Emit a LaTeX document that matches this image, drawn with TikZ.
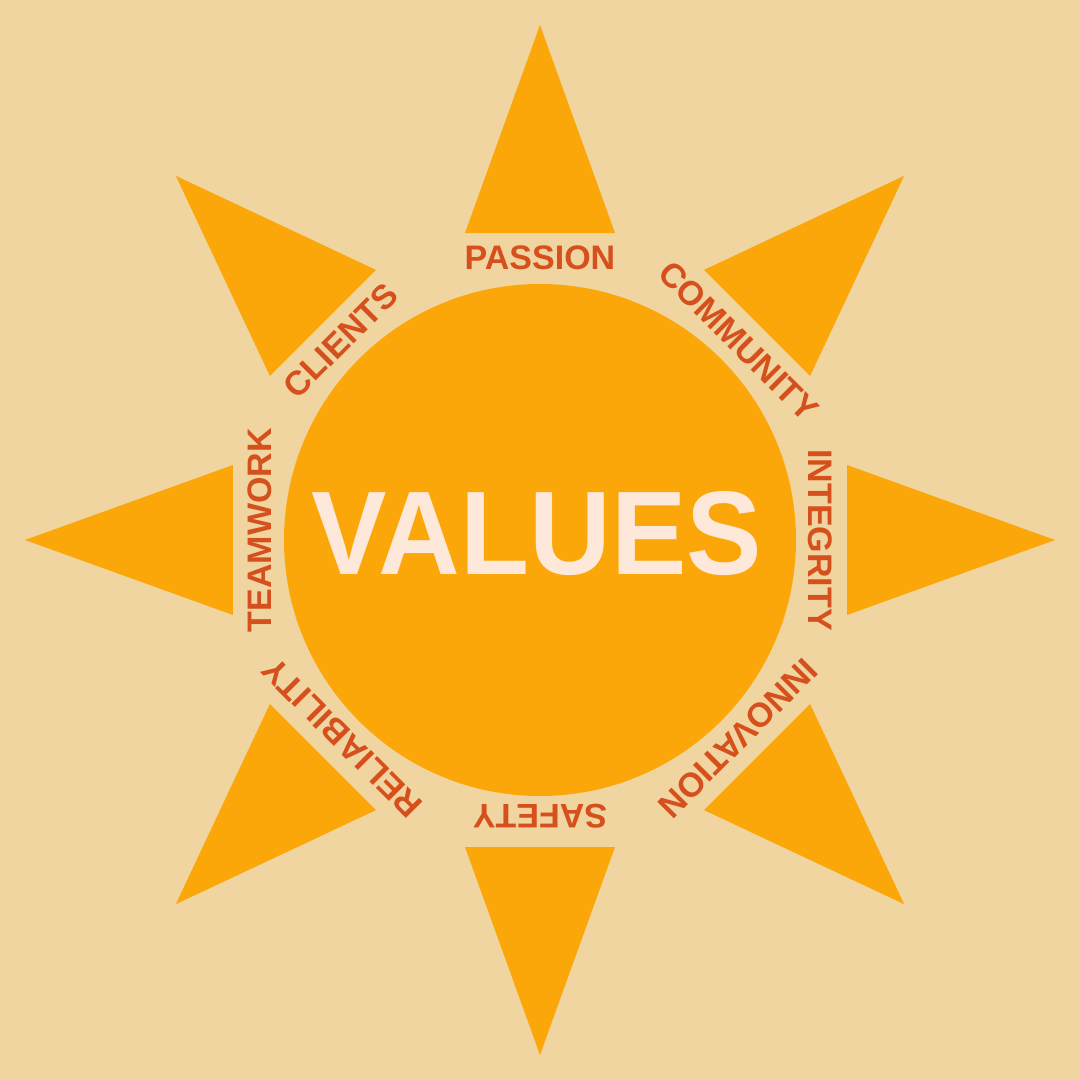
\documentclass[tikz,border=0pt]{standalone}
\usepackage{fontspec}
\setmainfont{Liberation Sans}
\definecolor{bg}{HTML}{F0D5A0}
\definecolor{sun}{HTML}{FBA70A}
\definecolor{lbl}{HTML}{D5501C}
\definecolor{big}{HTML}{FDE8D9}
\begin{document}
\begin{tikzpicture}[x=1pt,y=1pt,
  ray/.style={fill=sun},
  word/.style={text=lbl,inner sep=0pt,font=\fontsize{34}{40}\selectfont\bfseries},
  title/.style={text=big,inner sep=0pt,font=\fontsize{119}{130}\selectfont\bfseries,xscale=0.95}]
\fill[bg] (-540,-540) rectangle (540,540);
\useasboundingbox (-540,-540) rectangle (540,540);
\foreach \a in {0,45,...,315}
  \fill[ray,rotate=\a] (307,-75) -- (515,0) -- (307,75) -- cycle;
\fill[sun] (0,0) circle (256);
\node[title] (values) at (-3,6) {VALUES};
\node[word,rotate=0]    (passion)   at (90:282)  {PASSION};
\node[word,rotate=-45]  (community) at (45:281)  {COMMUNITY};
\node[word,rotate=-90]  (integrity) at (0:280)   {INTEGRITY};
\node[word,rotate=-135] (innovation) at (-45:280) {INNOVATION};
\node[word,rotate=-180] (safety)    at (-90:276) {SAFETY};
\node[word,rotate=-225] (reliability) at (-135:280) {RELIABILITY};
\node[word,rotate=90]   (teamwork)  at (178:280) {TEAMWORK};
\node[word,rotate=45]   (clients)   at (135:282) {CLIENTS};
\end{tikzpicture}
\end{document}
